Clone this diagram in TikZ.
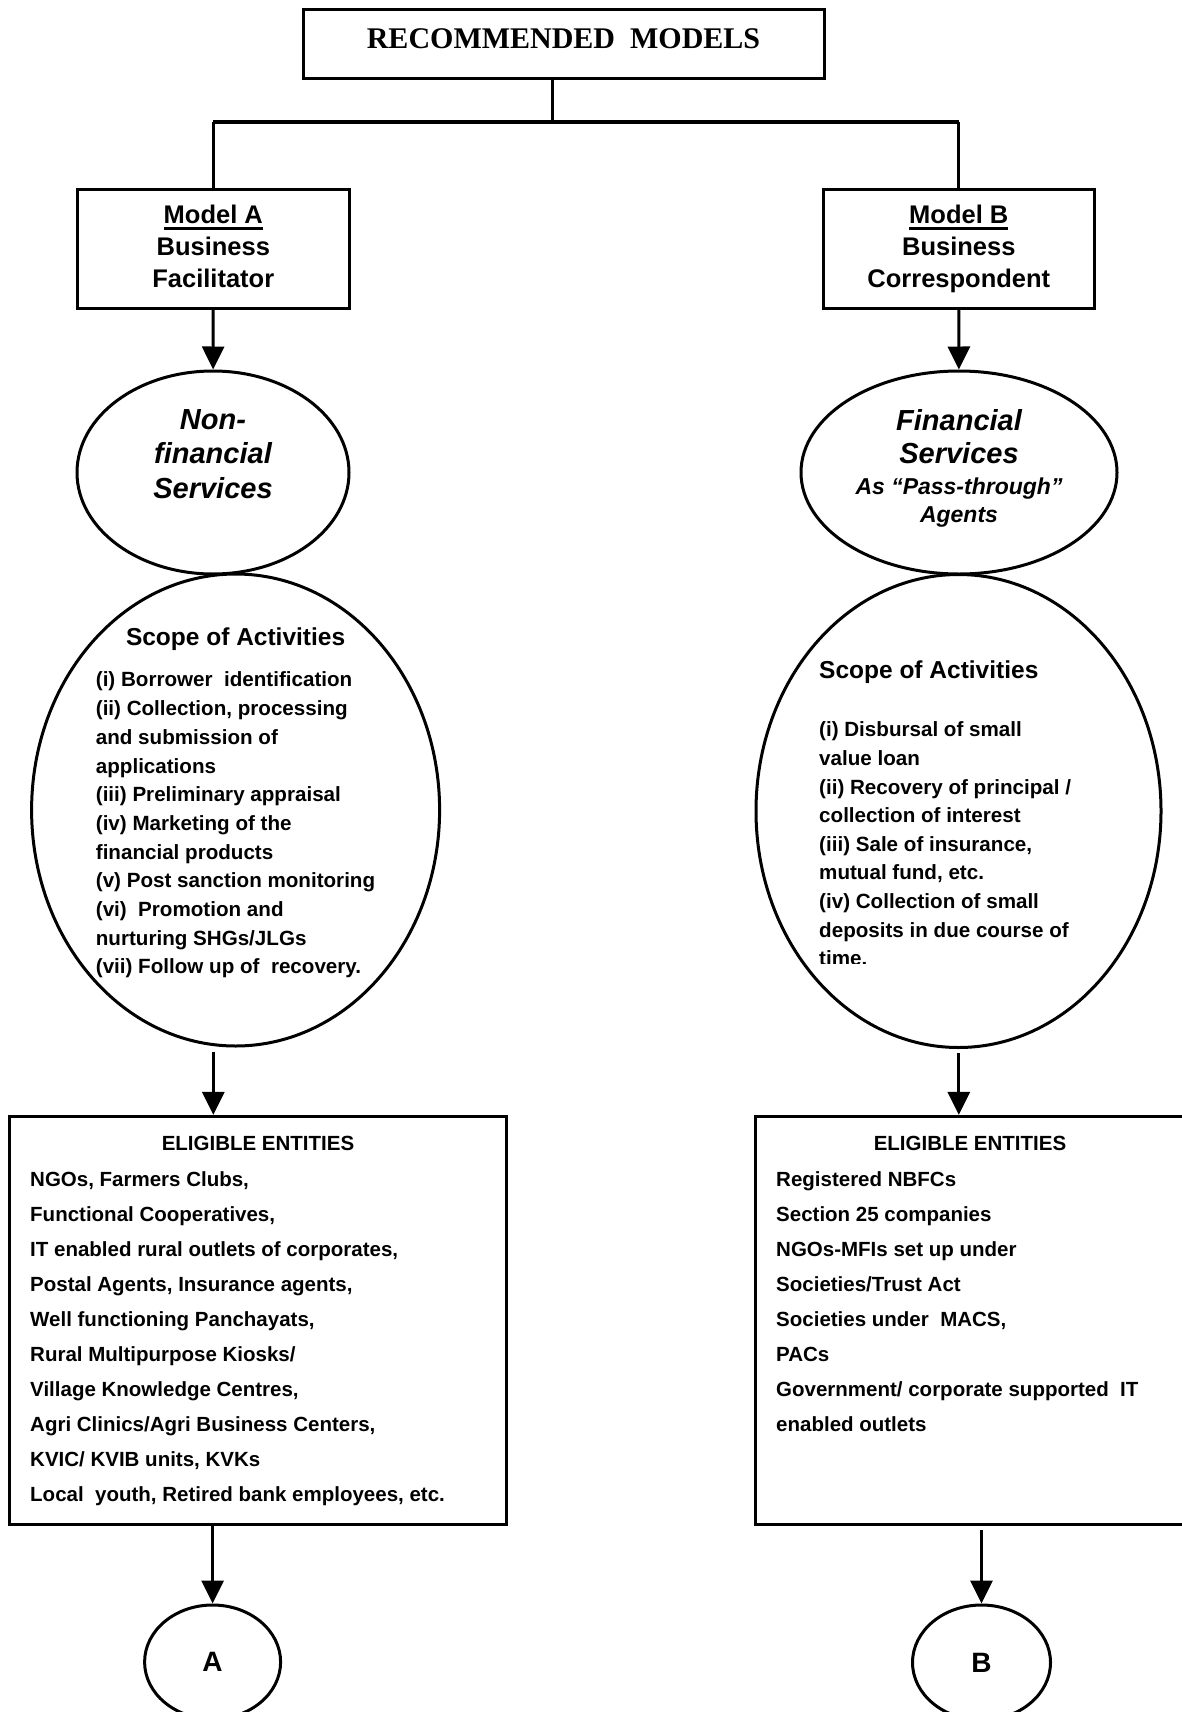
\documentclass[tikz,border=0pt]{standalone}
\usepackage{fontspec}
\setmainfont{Liberation Sans}
\newfontfamily\titlefont{Liberation Serif}
\usetikzlibrary{shapes.geometric,arrows.meta}
\newcommand\ulword[1]{\setbox0\hbox{#1}\leavevmode\rlap{\rule[-6.3pt]{\wd0}{2.7pt}}\box0}
\begin{document}
\begin{tikzpicture}[x=1pt,y=-1pt,
 box/.style={draw,line width=3pt,inner sep=0pt},
 oval/.style={draw,ellipse,line width=3pt,inner sep=0pt},
 link/.style={line width=3pt},
 arrow/.style={line width=3pt,-{Triangle[length=23pt,width=22pt]}},
 txt/.style={inner sep=0pt,align=left,font=\bfseries\fontsize{20.5}{35.1}\selectfont}]
 \useasboundingbox (0,0) rectangle (1182,1712);
 \node[box,minimum width=521pt,minimum height=69pt,text depth=10pt,font=\titlefont\bfseries\fontsize{30}{36}\selectfont] (top) at (563.5,44) {RECOMMENDED\ \ MODELS};
 \node[box,minimum width=271.5pt,minimum height=119pt,align=center,font=\bfseries\fontsize{25.5}{32}\selectfont] (modelA) at (213.3,249) {\ulword{Model A}\\Business\\Facilitator\vphantom{p}};
 \node[box,minimum width=271.5pt,minimum height=119pt,align=center,font=\bfseries\fontsize{25.5}{32}\selectfont] (modelB) at (958.8,249) {\ulword{Model B}\\Business\\Correspondent};
 \coordinate (split) at (552.5,122);
 \draw[link] (top.south -| split) -- (split);
 \draw[link,line width=4pt] (modelA.north |- split) -- (modelB.north |- split);
 \draw[link] (modelA.north |- split) -- (modelA.north);
 \draw[link] (modelB.north |- split) -- (modelB.north);
 % services
 \node[oval,minimum width=272pt,minimum height=203pt] (nonfin) at (213,472.5) {};
 \node[oval,minimum width=316pt,minimum height=203pt] (fin) at (959,472.5) {};
 \node[inner sep=0pt,anchor=north,align=center,font=\bfseries\itshape\fontsize{29}{34.5}\selectfont] (nonfintxt) at (213,409) {Non-\\financial\\Services};
 \node[inner sep=0pt,anchor=north,align=center,font=\bfseries\itshape\fontsize{29}{33}\selectfont] (fintxt) at (959,409) {Financial\\Services};
 \node[inner sep=0pt,anchor=north,align=center,font=\bfseries\itshape\fontsize{23}{28}\selectfont] (passtxt) at (959,478) {As “Pass-through”\\Agents};
 \draw[arrow] (modelA) -- (nonfin);
 \draw[arrow] (modelB) -- (fin);
 % scope of activities
 \node[oval,minimum width=408pt,minimum height=472pt] (scopeA) at (235.6,810) {};
 \node[oval,minimum width=405pt,minimum height=473pt] (scopeB) at (958.5,811) {};
 \node[inner sep=0pt,anchor=base,font=\bfseries\fontsize{24.5}{30}\selectfont] (scopeAhead) at (235.6,645.7) {Scope of Activities};
 \node[inner sep=0pt,anchor=base west,font=\bfseries\fontsize{24.5}{30}\selectfont] (scopeBhead) at (819,678) {Scope of Activities};
 \node[txt,anchor=north west,font=\bfseries\fontsize{20.6}{28.7}\selectfont] (scopeAlist) at (95.7,671.8) {(i) Borrower~ identification\\(ii) Collection, processing\\and submission of\\applications\\(iii) Preliminary appraisal\\(iv) Marketing of the\\financial products\\(v) Post sanction monitoring\\(vi)~ Promotion and\\nurturing SHGs/JLGs\\(vii) Follow up of~ recovery.};
 \begin{scope}
 \clip (760,700) rectangle (1160,963);
 \node[txt,anchor=north west,font=\bfseries\fontsize{20.6}{28.6}\selectfont] (scopeBlist) at (819,721.8) {(i) Disbursal of small\\value loan\\(ii) Recovery of principal /\\collection of interest\\(iii) Sale of insurance,\\mutual fund, etc.\\(iv) Collection of small\\deposits in due course of\\time.};
 \end{scope}
 % eligible entities
 \node[box,minimum width=497.5pt,minimum height=408.3pt] (eligA) at (257.8,1320.5) {};
 \node[box,minimum width=435pt,minimum height=408.3pt] (eligB) at (972.5,1320.5) {};
 \node[txt,anchor=base] (eligAhead) at (258,1150.7) {ELIGIBLE ENTITIES};
 \node[txt,anchor=base] (eligBhead) at (970,1150.7) {ELIGIBLE ENTITIES};
 \node[txt,anchor=north west] (eligAlist) at (30,1171) {NGOs, Farmers Clubs,\\Functional Cooperatives,\\IT enabled rural outlets of corporates,\\Postal Agents, Insurance agents,\\Well functioning Panchayats,\\Rural Multipurpose Kiosks/\\Village Knowledge Centres,\\Agri Clinics/Agri Business Centers,\\KVIC/ KVIB units, KVKs\\Local~ youth, Retired bank employees, etc.};
 \node[txt,anchor=north west] (eligBlist) at (776,1171) {Registered NBFCs\\Section 25 companies\\NGOs-MFIs set up under\\Societies/Trust Act\\Societies under~ MACS,\\PACs\\Government/ corporate supported~ IT\\enabled outlets};
 \draw[arrow,shorten <=4pt] (scopeA.south -| modelA.south) -- (eligA.north -| modelA.south);
 \draw[arrow,shorten <=4pt] (scopeB.south -| modelB.south) -- (eligB.north -| modelB.south);
 % end circles
 \node[oval,minimum width=136pt,minimum height=114pt,font=\bfseries\fontsize{28}{34}\selectfont] (circA) at (212.6,1662) {A};
 \node[oval,minimum width=138pt,minimum height=115pt,font=\bfseries\fontsize{28}{34}\selectfont] (circB) at (981.5,1662.5) {B};
 \draw[arrow] (eligA.south -| circA.north) -- (circA.north);
 \draw[arrow,shorten <=4pt] (eligB.south -| circB.north) -- (circB.north);
\end{tikzpicture}
\end{document}
